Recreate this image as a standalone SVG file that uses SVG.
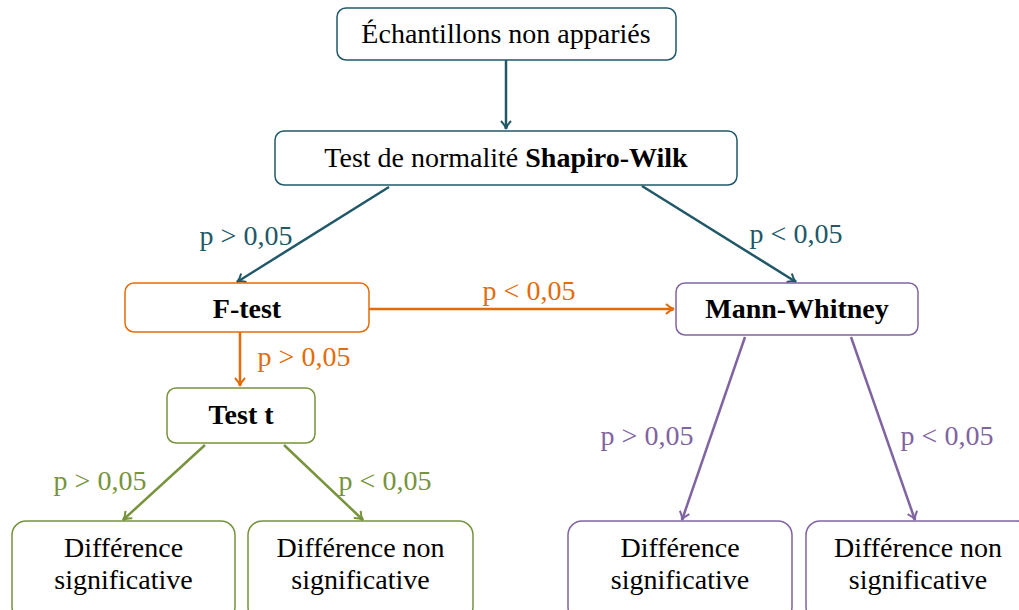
<svg xmlns="http://www.w3.org/2000/svg" width="1019" height="610" viewBox="0 0 1019 610" font-family="'Liberation Serif', 'DejaVu Serif', serif">
<style>
text{font-family:'Liberation Serif','DejaVu Serif',serif;font-size:28px;fill:#000;text-anchor:middle}
.b{font-weight:bold}
.box{fill:#fff;stroke-width:1.5}
.teal{stroke:#215868}.orange{stroke:#E36C0A}.green{stroke:#77933C}.purple{stroke:#8064A2}
.lt{fill:#215868}.lo{fill:#E36C0A}.lg{fill:#77933C}.lp{fill:#8064A2}
.c{fill:none;stroke-width:2.5}
</style>
<defs>
<marker id="mt" viewBox="0 0 12 12" refX="10" refY="6" markerWidth="12" markerHeight="12" markerUnits="userSpaceOnUse" orient="auto"><path d="M2,1 Q6,5 10,6 Q6,7 2,11" fill="none" stroke="#215868" stroke-width="2"/></marker>
<marker id="mo" viewBox="0 0 12 12" refX="10" refY="6" markerWidth="12" markerHeight="12" markerUnits="userSpaceOnUse" orient="auto"><path d="M2,1 Q6,5 10,6 Q6,7 2,11" fill="none" stroke="#E36C0A" stroke-width="2"/></marker>
<marker id="mg" viewBox="0 0 12 12" refX="10" refY="6" markerWidth="12" markerHeight="12" markerUnits="userSpaceOnUse" orient="auto"><path d="M2,1 Q6,5 10,6 Q6,7 2,11" fill="none" stroke="#77933C" stroke-width="2"/></marker>
<marker id="mp" viewBox="0 0 12 12" refX="10" refY="6" markerWidth="12" markerHeight="12" markerUnits="userSpaceOnUse" orient="auto"><path d="M2,1 Q6,5 10,6 Q6,7 2,11" fill="none" stroke="#8064A2" stroke-width="2"/></marker>
</defs>
<g id="connectors">
<line class="c teal" x1="506" y1="60" x2="506" y2="129" marker-end="url(#mt)"/>
<line class="c teal" x1="389" y1="187" x2="237" y2="282" marker-end="url(#mt)"/>
<line class="c teal" x1="642" y1="186" x2="796" y2="282" marker-end="url(#mt)"/>
<line class="c orange" x1="369" y1="309" x2="674" y2="309" marker-end="url(#mo)"/>
<line class="c orange" x1="240" y1="332" x2="240" y2="386" marker-end="url(#mo)"/>
<line class="c green" x1="205" y1="445" x2="123" y2="520" marker-end="url(#mg)"/>
<line class="c green" x1="284" y1="445" x2="363" y2="520" marker-end="url(#mg)"/>
<line class="c purple" x1="745" y1="337" x2="682" y2="520" marker-end="url(#mp)"/>
<line class="c purple" x1="851" y1="337" x2="915" y2="520" marker-end="url(#mp)"/>
<text class="lt" x="246" y="245">p &gt; 0,05</text>
<text class="lt" x="796" y="243">p &lt; 0,05</text>
<text class="lo" x="529" y="300">p &lt; 0,05</text>
<text class="lo" x="304" y="366">p &gt; 0,05</text>
<text class="lg" x="100" y="490">p &gt; 0,05</text>
<text class="lg" x="385" y="490">p &lt; 0,05</text>
<text class="lp" x="647" y="445">p &gt; 0,05</text>
<text class="lp" x="947" y="445">p &lt; 0,05</text>
</g>
<g id="n-echantillons"><rect class="box teal" x="337" y="8" width="339" height="52" rx="9"/><text x="506" y="43">Échantillons non appariés</text></g>
<g id="n-shapiro"><rect class="box teal" x="275" y="131" width="462" height="54" rx="9"/><text x="506" y="167">Test de normalité <tspan class="b">Shapiro-Wilk</tspan></text></g>
<g id="n-ftest"><rect class="box orange" x="125" y="283" width="244" height="49" rx="9"/><text class="b" x="247" y="318">F-test</text></g>
<g id="n-mann"><rect class="box purple" x="676" y="283" width="242" height="52" rx="9"/><text class="b" x="797" y="318">Mann-Whitney</text></g>
<g id="n-testt"><rect class="box green" x="167" y="388" width="148" height="55" rx="9"/><text class="b" x="241" y="424">Test t</text></g>
<g id="n-g-sig"><rect class="box green" x="12" y="521" width="223" height="100" rx="14"/><text x="123.5" y="557">Différence</text><text x="123.5" y="589">significative</text></g>
<g id="n-g-nonsig"><rect class="box green" x="248" y="521" width="225" height="100" rx="14"/><text x="360.5" y="557">Différence non</text><text x="360.5" y="589">significative</text></g>
<g id="n-p-sig"><rect class="box purple" x="568" y="521" width="224" height="100" rx="14"/><text x="680" y="557">Différence</text><text x="680" y="589">significative</text></g>
<g id="n-p-nonsig"><rect class="box purple" x="806" y="521" width="225" height="100" rx="14"/><text x="918" y="557">Différence non</text><text x="918" y="589">significative</text></g>
</svg>
